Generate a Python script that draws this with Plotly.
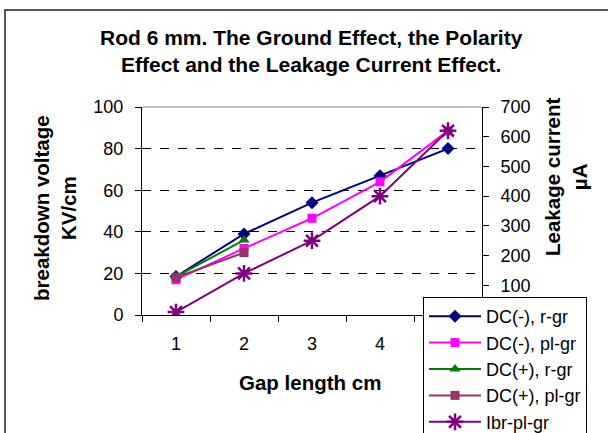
import plotly.graph_objects as go

gap = ["1", "2", "3", "4", "5"]
dc_neg_rgr = [18.5, 39, 54, 67, 80]
dc_neg_plgr = [17, 32, 46.5, 64, 88.5]
gap_pos = ["1", "2"]
dc_pos_rgr = [18.5, 36]
dc_pos_plgr = [18, 30]
ibr_plgr = [10, 140, 250, 400, 620]
y2_ticks = [0, 100, 200, 300, 400, 500, 600, 700]
y2_labels = ["", "100", "200", "300", "400", "500", "600", "700"]  # 0 is hidden by the legend

FONT = "Liberation Sans, Arial, sans-serif"
W, H = 608, 433
L, R, T, B = 142, 482, 107, 315


def px(x):
    return (x - L) / (R - L)


def py(y):
    return (B - y) / (B - T)


fig = go.Figure()
fig.add_trace(go.Scatter(x=gap, y=dc_neg_rgr, name="DC(-), r-gr", mode="lines+markers",
                         line=dict(color="#000080", width=2),
                         marker=dict(symbol="diamond", size=10, color="#000080")))
fig.add_trace(go.Scatter(x=gap, y=dc_neg_plgr, name="DC(-), pl-gr", mode="lines+markers",
                         line=dict(color="#FF00FF", width=2),
                         marker=dict(symbol="square", size=9, color="#FF00FF")))
fig.add_trace(go.Scatter(x=gap_pos, y=dc_pos_rgr, name="DC(+), r-gr", mode="lines+markers",
                         line=dict(color="#008000", width=2),
                         marker=dict(symbol="triangle-up", size=10, color="#008000")))
fig.add_trace(go.Scatter(x=gap_pos, y=dc_pos_plgr, name="DC(+), pl-gr", mode="lines+markers",
                         line=dict(color="#993366", width=2),
                         marker=dict(symbol="square", size=9, color="#993366")))
fig.add_trace(go.Scatter(x=gap, y=ibr_plgr, name="Ibr-pl-gr", mode="lines+markers", yaxis="y2",
                         line=dict(color="#800080", width=2),
                         marker=dict(symbol="asterisk-open", size=14,
                                     line=dict(color="#800080", width=2.5))))

fig.update_layout(
    width=W, height=H,
    margin=dict(l=L, r=W - R, t=T, b=H - B, pad=0, autoexpand=False),
    paper_bgcolor="white", plot_bgcolor="white",
    font=dict(family=FONT, size=18, color="black"),
    showlegend=True,
    legend=dict(x=px(423), y=py(297), xanchor="left", yanchor="top",
                bgcolor="white", bordercolor="black", borderwidth=1,
                font=dict(family=FONT, size=18, color="black"),
                itemwidth=52, tracegroupgap=0),
    xaxis=dict(type="category", tickson="boundaries", ticks="outside", ticklen=6,
               tickcolor="black", showline=True, linecolor="black", linewidth=1,
               showgrid=False, zeroline=False, ticklabelstandoff=12,
               tickfont=dict(size=18), range=[-0.5, 4.5]),
    yaxis=dict(range=[0, 100], dtick=20, ticks="outside", ticklen=6, tickcolor="black",
               showline=True, linecolor="black", linewidth=1,
               showgrid=True, gridcolor="black", griddash="dash", gridwidth=1,
               zeroline=False, ticklabelstandoff=8, tickfont=dict(size=18)),
    yaxis2=dict(range=[0, 700], tickvals=y2_ticks, ticktext=y2_labels,
                overlaying="y", side="right",
                ticks="outside", ticklen=6, tickcolor="black",
                showline=True, linecolor="black", linewidth=1,
                showgrid=False, zeroline=False, ticklabelstandoff=8,
                tickfont=dict(size=18)),
)

# plot-area top edge and chart frame
fig.add_shape(type="line", xref="paper", yref="paper", x0=0, x1=1, y0=1, y1=1,
              line=dict(color="#808080", width=1))
fig.add_shape(type="rect", xref="paper", yref="paper",
              x0=px(5), x1=px(612), y0=py(440), y1=py(10),
              line=dict(color="#202020", width=1.5), layer="below")

fig.add_annotation(text="<b>Rod 6 mm. The Ground Effect, the Polarity<br>Effect and the Leakage Current Effect.</b>",
                   xref="paper", yref="paper", x=px(311), y=py(51), showarrow=False,
                   xanchor="center", yanchor="middle", font=dict(size=21, family=FONT))
fig.add_annotation(text="<b>breakdown voltage<br>KV/cm</b>", textangle=-90,
                   xref="paper", yref="paper", x=px(55), y=py(208), showarrow=False,
                   xanchor="center", yanchor="middle", font=dict(size=20.5, family=FONT))
fig.add_annotation(text="<b>Leakage current<br>µA</b>", textangle=-90,
                   xref="paper", yref="paper", x=px(566), y=py(177), showarrow=False,
                   xanchor="center", yanchor="middle", font=dict(size=20.5, family=FONT))
fig.add_annotation(text="<b>Gap length cm</b>",
                   xref="paper", yref="paper", x=px(310), y=py(382), showarrow=False,
                   xanchor="center", yanchor="middle", font=dict(size=20.5, family=FONT))

fig.write_html("out.html")
